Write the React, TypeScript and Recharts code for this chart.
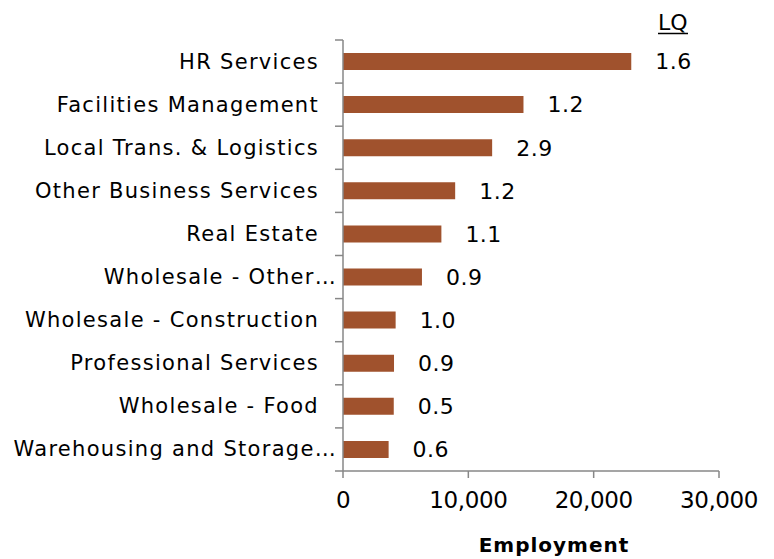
import { BarChart, Bar, XAxis, YAxis, LabelList } from "recharts";

const categories = [
  "HR Services",
  "Facilities Management",
  "Local Trans. & Logistics",
  "Other Business Services",
  "Real Estate",
  "Wholesale - Other…",
  "Wholesale - Construction",
  "Professional Services",
  "Wholesale - Food",
  "Warehousing and Storage…",
];
const employment = [23000, 14400, 11900, 8950, 7850, 6300, 4200, 4070, 4050, 3640];
const lq = ["1.6", "1.2", "2.9", "1.2", "1.1", "0.9", "1.0", "0.9", "0.5", "0.6"];
const xTicks = [0, 10000, 20000, 30000];

const data = categories.map((name, i) => ({ name, employment: employment[i], lq: lq[i] }));

const FONT = "'DejaVu Sans', Verdana, sans-serif";
const AXIS = "#878787";
const BAR = "#A0522D";
const BAND = 431 / categories.length;

function CategoryTick(props: any) {
  const { x, y, payload, index } = props;
  const text: string = payload.value;
  const cut = text.endsWith("…");
  return (
    <g>
      <line x1={x + 16} x2={x + 24} y1={y - BAND / 2} y2={y - BAND / 2} stroke={AXIS} strokeWidth={1.5} />
      {index === categories.length - 1 && (
        <line x1={x + 16} x2={x + 24} y1={y + BAND / 2} y2={y + BAND / 2} stroke={AXIS} strokeWidth={1.5} />
      )}
      <text
        x={cut ? x + 18 : x}
        y={y}
        textAnchor="end"
        dominantBaseline="central"
        fill="#000"
        fontSize={21}
        letterSpacing={1.3}
        fontFamily={FONT}
      >
        {text}
      </text>
    </g>
  );
}

export default function App() {
  return (
    <div style={{ position: "absolute", left: 0, top: 0, width: 774, height: 559, background: "#fff" }}>
      <BarChart
        width={774}
        height={559}
        data={data}
        layout="vertical"
        margin={{ top: 40, right: 55, bottom: 28, left: 0 }}
      >
        <XAxis
          type="number"
          domain={[0, 30000]}
          ticks={xTicks}
          tickFormatter={(v: number) => v.toLocaleString("en-US")}
          height={60}
          axisLine={{ stroke: AXIS, strokeWidth: 1.5 }}
          tickLine={{ stroke: AXIS, strokeWidth: 1.5 }}
          tickSize={7}
          tickMargin={14}
          tick={{ fill: "#000", fontSize: 23, fontFamily: FONT, letterSpacing: -0.4 }}
        />
        <YAxis
          type="category"
          dataKey="name"
          width={343}
          axisLine={{ stroke: AXIS, strokeWidth: 1.5 }}
          tickLine={false}
          tickSize={8}
          tickMargin={16}
          interval={0}
          tick={(p: any) => <CategoryTick {...p} />}
        />
        <Bar dataKey="employment" fill={BAR} barSize={17} isAnimationActive={false}>
          <LabelList
            dataKey="lq"
            position="right"
            offset={24}
            fill="#000"
            fontSize={22}
            fontFamily={FONT}
            letterSpacing={0.5}
          />
        </Bar>
      </BarChart>
      <svg
        width={774}
        height={559}
        style={{ position: "absolute", left: 0, top: 0, pointerEvents: "none" }}
      >
        <text x={658} y={30} fontSize={22} fontFamily={FONT} fill="#000">
          LQ
        </text>
        <line x1={658} x2={688} y1={33.5} y2={33.5} stroke="#000" strokeWidth={1.5} />
        <text
          x={554}
          y={552}
          textAnchor="middle"
          fontSize={20}
          fontWeight="bold"
          letterSpacing={1}
          fontFamily={FONT}
          fill="#000"
        >
          Employment
        </text>
      </svg>
    </div>
  );
}
